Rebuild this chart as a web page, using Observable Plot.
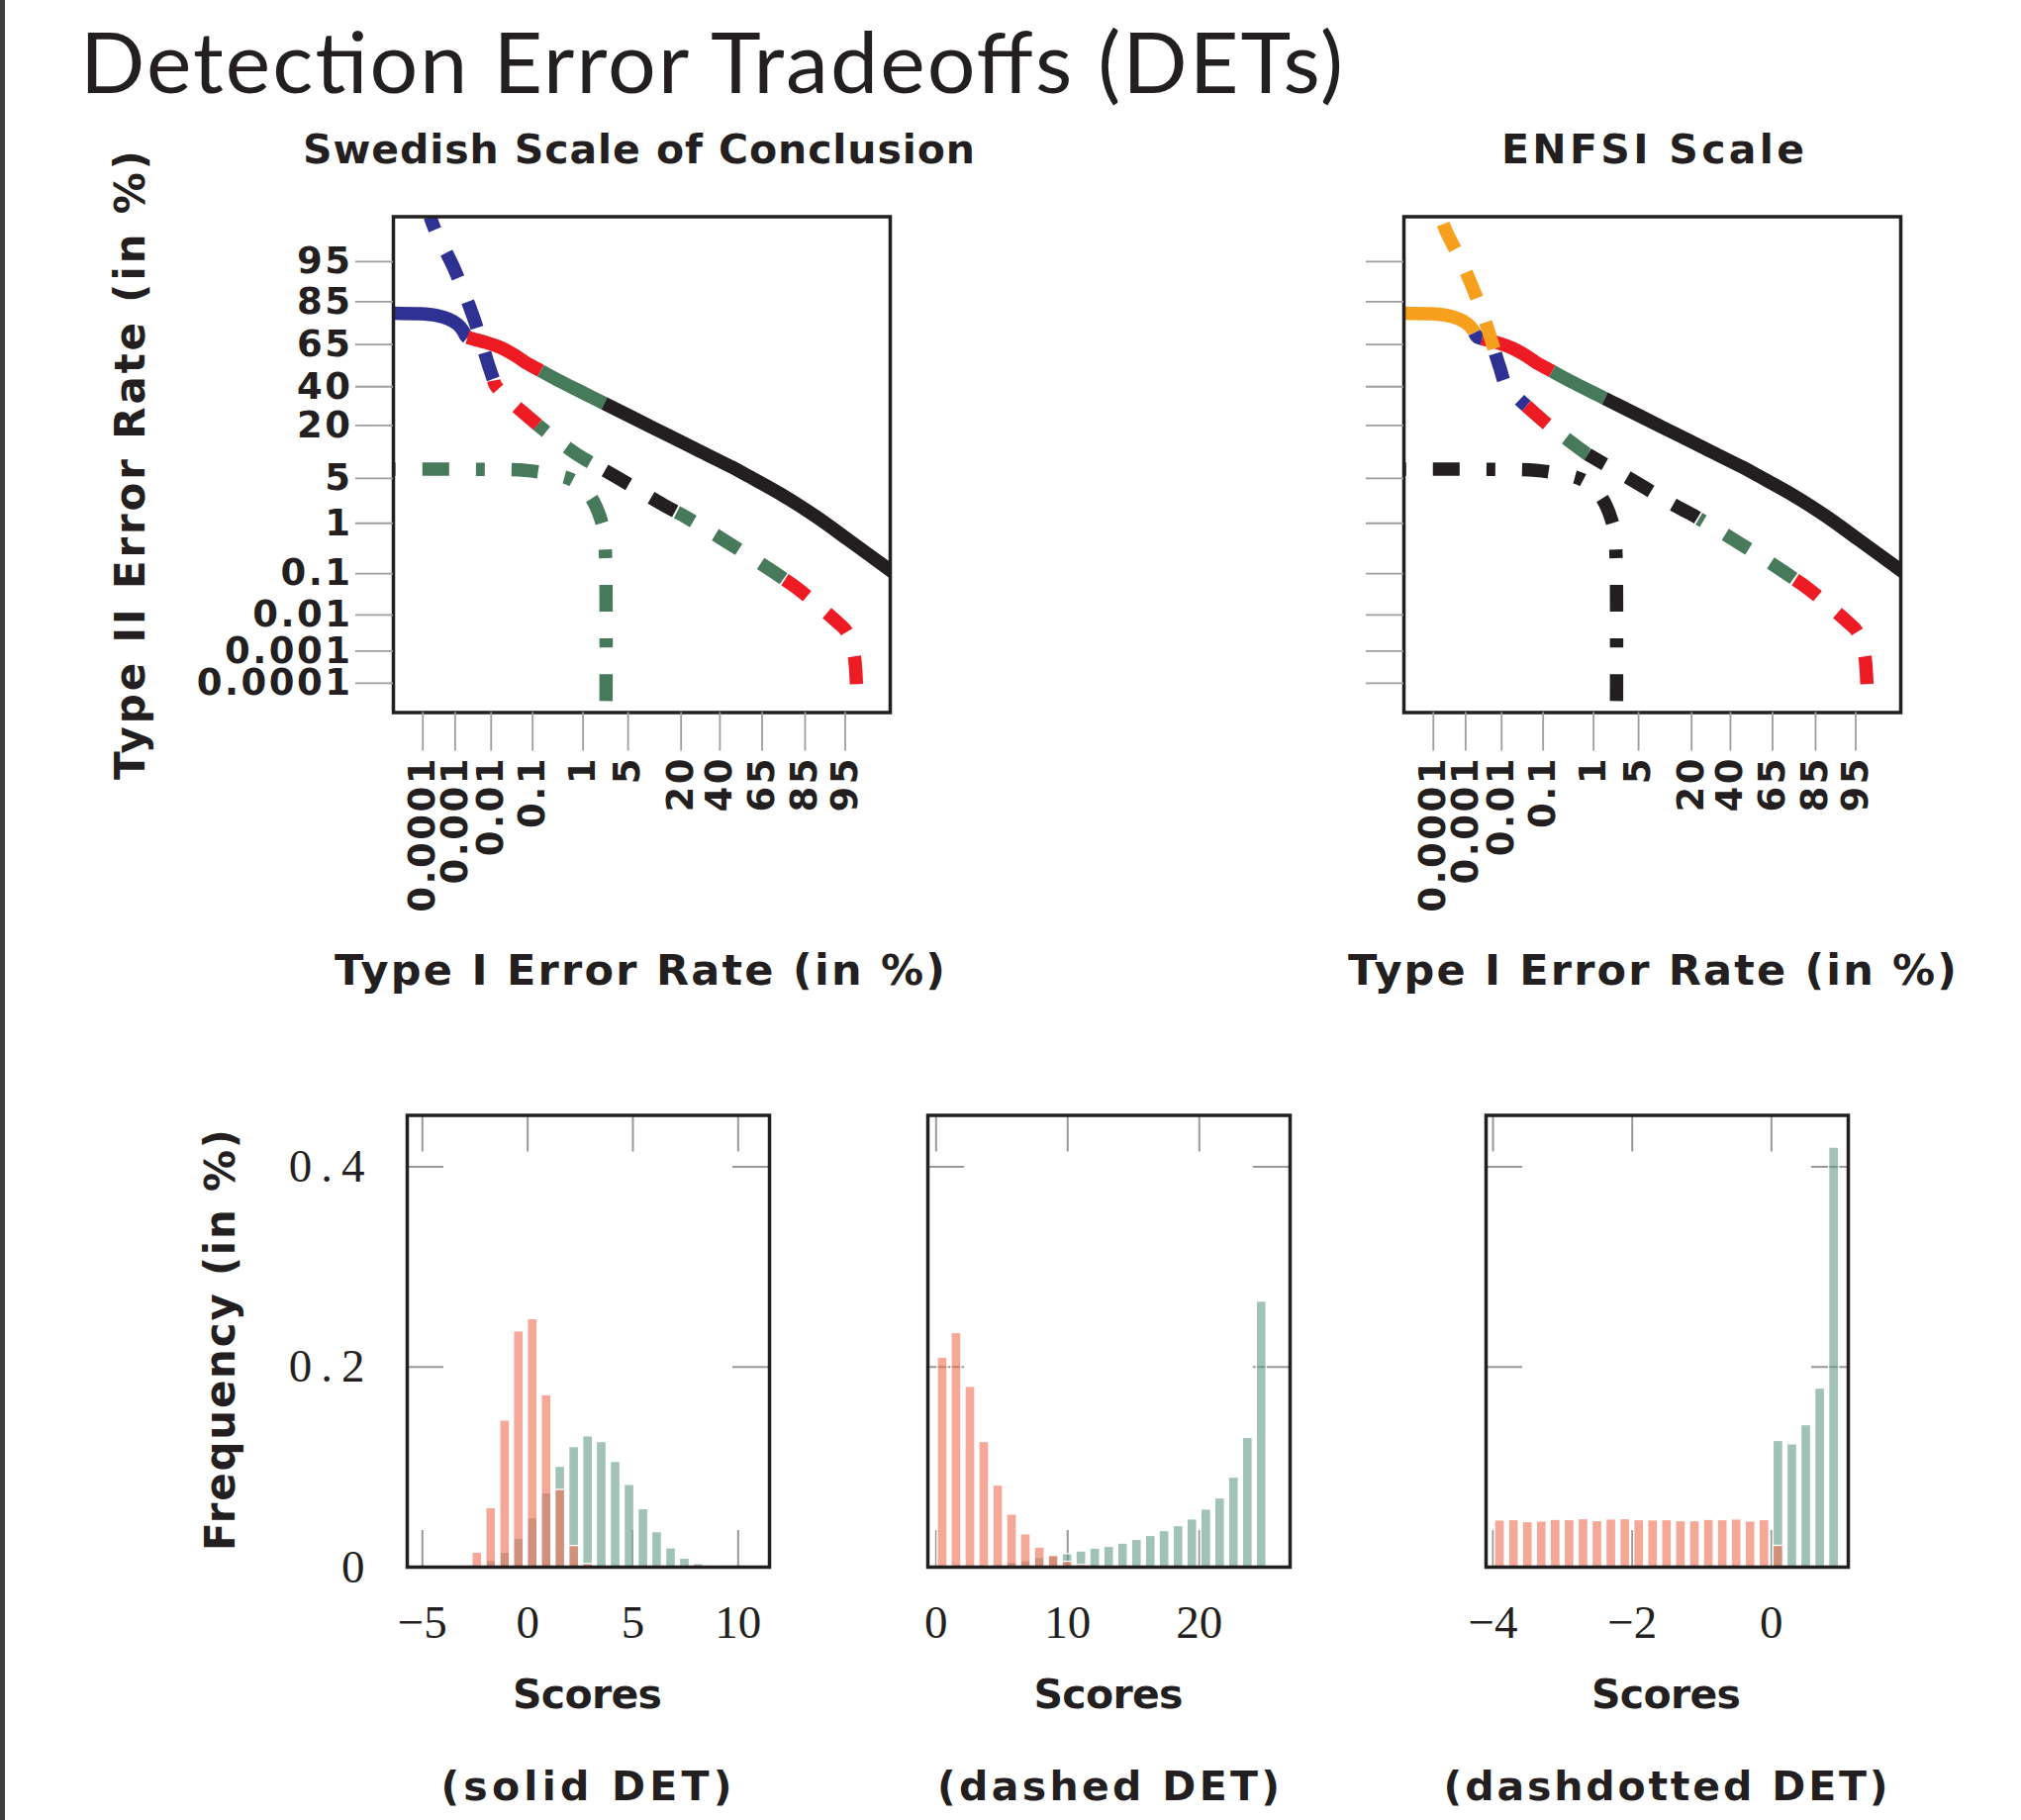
<!DOCTYPE html>
<html><head><meta charset="utf-8">
<script src="https://cdn.jsdelivr.net/npm/d3@7"></script>
<script src="https://cdn.jsdelivr.net/npm/@observablehq/plot@0.6"></script>
<style>
html,body{margin:0;padding:0;background:#fff;}
#page{position:relative;width:2042px;height:1839px;overflow:hidden;background:#fff;}
.panel{position:absolute;}
#leftbar{position:absolute;left:0;top:0;width:5px;height:1839px;background:#3d3d3d;}
#overlay{position:absolute;left:0;top:0;pointer-events:none;}
</style></head><body>
<div id="page"><div id="leftbar"></div></div>
<script>
// ---------- DATA ----------
// DET axis ticks (error rates in %)
const pctTicks = [0.0001, 0.001, 0.01, 0.1, 1, 5, 20, 40, 65, 85, 95];
const pctTickLabels = ["0.0001","0.001","0.01","0.1","1","5","20","40","65","85","95"];

// DET curves, in normal-deviate (probit) units: x = probit(Type I rate), y = probit(Type II rate)
const solidX = [-5.40,-5.194,-4.804,-4.554,-4.354,-4.229,-4.144,-4.104,-4.079,-3.954,-3.804,-3.554,-3.354,-3.204,-2.979,-2.704,-2.504,-2.305,-2.005,-1.555,-1.055,-0.555,-0.055,0.195,0.695,1.195,1.695,2.270,2.50];
const solidY = [0.862,0.860,0.855,0.830,0.770,0.695,0.595,0.520,0.495,0.460,0.420,0.330,0.219,0.119,-0.006,-0.156,-0.256,-0.357,-0.507,-0.732,-0.983,-1.233,-1.483,-1.620,-1.900,-2.220,-2.580,-3.000,-3.170];

const dashedX = [-4.643,-4.564,-4.294,-3.994,-3.744,-3.654,-3.450,-3.179,-2.974,-2.430,-1.805,-1.105,-0.785,-0.140,0.545,0.920,1.535,1.670,1.775,1.805,1.815];
const dashedY = [2.326,2.116,1.571,0.820,0.029,-0.231,-0.450,-0.692,-0.867,-1.273,-1.633,-2.049,-2.223,-2.614,-3.055,-3.315,-3.836,-3.976,-4.300,-4.587,-4.820];

const dashdotX = [-6.11,-3.804,-3.204,-2.904,-2.654,-2.504,-2.355,-2.230,-2.130,-2.055,-2.005,-1.990,-1.980,-1.980];
const dashdotY = [-1.508,-1.508,-1.523,-1.563,-1.613,-1.663,-1.763,-1.898,-2.074,-2.274,-2.474,-2.725,-3.175,-5.600];

// verbal-scale colour changes along each curve (breakpoints in probit of Type I rate)
const swedishSolidBreaks = [-4.079, -2.969, -2.005];
const swedishSolidColors = ["blue","red","green","black"];
const enfsiSolidBreaks = [-4.129, -4.014, -2.954, -2.155];
const enfsiSolidColors = ["orange","blue","red","green","black"];
const swedishDashedBreaks = [-3.679, -3.014, -1.995, -0.905, 0.730];
const swedishDashedColors = ["blue","red","green","black","green","red"];
const enfsiDashedBreaks = [-3.814, -3.344, -2.745, -2.415, -0.730, 0.730];
const enfsiDashedColors = ["orange","blue","red","green","black","green","red"];

// Histograms (bin centres, frequencies)
const h1Centers = [-2.39,-1.73,-1.07,-0.42,0.24,0.90,1.55,2.21,2.87,3.52,4.18,4.84,5.50,6.15,6.81,7.47,8.12];
const h1Diff = [0.0145,0.059,0.1465,0.2356,0.2478,0.1719,0.0772,0.0211,0.003,0,0,0,0,0,0,0,0];
const h1Same = [0,0.0063,0.0145,0.0283,0.049,0.0739,0.1003,0.12,0.1307,0.125,0.1052,0.0822,0.058,0.035,0.0188,0.0085,0.003];
const h2Centers = [0.50,1.55,2.61,3.66,4.72,5.77,6.82,7.88,8.93,9.99,11.04,12.09,13.15,14.20,15.26,16.31,17.36,18.42,19.47,20.53,21.58,22.63,23.69,24.74];
const h2Diff = [0.2092,0.2339,0.1802,0.1251,0.0816,0.0526,0.0328,0.0196,0.0114,0.0054,0.0022,0,0,0,0,0,0,0,0,0,0,0,0,0];
const h2Same = [0,0,0,0.001,0.002,0.0044,0.006,0.0093,0.0104,0.013,0.0157,0.0186,0.0203,0.0236,0.0272,0.0312,0.0361,0.041,0.0477,0.0576,0.0687,0.0895,0.1291,0.2653];
const h3Centers = [-3.90,-3.70,-3.50,-3.30,-3.10,-2.90,-2.70,-2.50,-2.30,-2.10,-1.90,-1.70,-1.50,-1.30,-1.10,-0.90,-0.70,-0.50,-0.30,-0.10,0.10,0.30,0.50,0.70,0.90];
const h3Diff = [0.0467,0.0470,0.0450,0.0457,0.0473,0.0470,0.0480,0.0460,0.0477,0.0480,0.0470,0.0467,0.0470,0.0460,0.0460,0.0473,0.0470,0.0477,0.0457,0.0470,0.0213,0,0,0,0];
const h3Same = [0,0,0,0,0,0,0,0,0,0,0,0,0,0,0,0,0,0,0,0,0.1261,0.1228,0.1419,0.1785,0.4192];
const h1BinWidth = 0.657, h2BinWidth = 1.054, h3BinWidth = 0.2;

const h1XTicks = [-5,0,5,10], h1XLabels = ["\u22125","0","5","10"];
const h2XTicks = [0,10,20], h2XLabels = ["0","10","20"];
const h3XTicks = [-4,-2,0], h3XLabels = ["\u22124","\u22122","0"];
const freqTicks = [0,0.2,0.4], freqLabels = ["0","0.2","0.4"];

// ---------- STYLE ----------
const INK = "#231f20";
const COL = {blue:"#2e3192", red:"#ed1c24", green:"#477a5a", black:"#231f20", orange:"#f6a01e"};
const SALMON = "#f06e53", SEAGREEN = "#619b85";
const LW = 13.5, DASH = "28,26", DASHDOT = "27,27,9,27";
const swedishDashOffsets = [14,18,17,0,9,0];
const enfsiDashOffsets = [46,0,0,0,8,23,0];

// ---------- helpers ----------
function probit(p){
  const a=[-3.969683028665376e+01,2.209460984245205e+02,-2.759285104469687e+02,1.383577518672690e+02,-3.066479806614716e+01,2.506628277459239e+00];
  const b=[-5.447609879822406e+01,1.615858368580409e+02,-1.556989798598866e+02,6.680131188771972e+01,-1.328068155288572e+01];
  const c=[-7.784894002430293e-03,-3.223964580411365e-01,-2.400758277161838e+00,-2.549732539343734e+00,4.374664141464968e+00,2.938163982698783e+00];
  const d=[7.784695709041462e-03,3.224671290700398e-01,2.445134137142996e+00,3.754408661907416e+00];
  const pl=0.02425, ph=1-pl; let q,r;
  if(p<pl){q=Math.sqrt(-2*Math.log(p));return (((((c[0]*q+c[1])*q+c[2])*q+c[3])*q+c[4])*q+c[5])/((((d[0]*q+d[1])*q+d[2])*q+d[3])*q+1);}
  if(p<=ph){q=p-0.5;r=q*q;return (((((a[0]*r+a[1])*r+a[2])*r+a[3])*r+a[4])*r+a[5])*q/(((((b[0]*r+b[1])*r+b[2])*r+b[3])*r+b[4])*r+1);}
  q=Math.sqrt(-2*Math.log(1-p));return -(((((c[0]*q+c[1])*q+c[2])*q+c[3])*q+c[4])*q+c[5])/((((d[0]*q+d[1])*q+d[2])*q+d[3])*q+1);
}
const DET_LO = probit(1e-7), DET_HI = probit(0.99);
const probitTicks = pctTicks.map(p => probit(p/100));
const tickLabel = new Map(probitTicks.map((z,i)=>[z, pctTickLabels[i]]));

function clipCurve(xs, ys, a, b){
  const pts=[];
  const push=(x,y)=>{const l=pts[pts.length-1]; if(!l||Math.abs(l.x-x)>1e-9||Math.abs(l.y-y)>1e-9) pts.push({x,y});};
  for(let i=0;i<xs.length-1;i++){
    const x0=xs[i],x1=xs[i+1],y0=ys[i],y1=ys[i+1];
    if(x1<a||x0>b) continue;
    if(x1===x0){push(x0,y0);push(x1,y1);continue;}
    const at=x=>y0+(y1-y0)*(x-x0)/(x1-x0);
    const s=Math.max(a,x0), e=Math.min(b,x1);
    push(s,at(s)); push(e,at(e));
  }
  return pts;
}
function segmentMarks(xs, ys, breaks, colors, dash, offsets){
  const edges=[-Infinity,...breaks,Infinity];
  const marks=[];
  for(let s=0;s<colors.length;s++){
    const pts=clipCurve(xs,ys,edges[s],edges[s+1]);
    if(pts.length<2) continue;
    const o={x:"x",y:"y",stroke:COL[colors[s]],strokeWidth:LW,strokeLinecap:"butt",strokeLinejoin:"round",curve:"catmull-rom",clip:true};
    if(dash){o.strokeDasharray=dash;o.strokeDashoffset=offsets?offsets[s]:0;}
    marks.push(Plot.line(pts,o));
  }
  return marks;
}

function detPanel(cfg){
  const marks=[
    ...segmentMarks(solidX,solidY,cfg.solidBreaks,cfg.solidColors,null,null),
    ...segmentMarks(dashedX,dashedY,cfg.dashedBreaks,cfg.dashedColors,DASH,cfg.dashOffsets),
    ...segmentMarks(dashdotX,dashdotY,[],[cfg.dashdotColor],DASHDOT,[0]),
    Plot.frame({stroke:INK,strokeWidth:3.5}),
    Plot.axisX({ticks:probitTicks,tickFormat:d=>tickLabel.get(d),tickSize:39,tickPadding:5,tickRotate:-90,stroke:"#9d9d9d",strokeWidth:1.8,fill:INK,label:null}),
    Plot.axisY({ticks:probitTicks,tickFormat:cfg.yLabels?(d=>tickLabel.get(d)):(()=>""),tickSize:38,tickPadding:3,stroke:"#9d9d9d",strokeWidth:1.8,fill:INK,label:null})
  ];
  return Plot.plot({
    width:730,height:770,marginLeft:207,marginRight:21,marginTop:28.5,marginBottom:240.5,
    x:{domain:[DET_LO,DET_HI]},y:{domain:[DET_LO,DET_HI]},
    style:{fontFamily:"DejaVu Sans",fontSize:"37px",fontWeight:"bold",letterSpacing:"2.5px",color:INK,background:"none",overflow:"visible"},
    marks
  });
}

function histPanel(cfg){
  const FW=366, FH=456.5, TL=37;
  const bars=(centers,vals,bw)=>centers.map((c,i)=>({x1:c-0.355*bw,x2:c+0.355*bw,v:vals[i]})).filter(d=>d.v>0);
  const fmtX=new Map(cfg.xTicks.map((t,i)=>[t,cfg.xLabels[i]]));
  const fmtY=new Map(freqTicks.map((t,i)=>[t,freqLabels[i]]));
  const tick={stroke:"#999",strokeWidth:2};
  const marks=[
    Plot.tickX(cfg.xTicks,{x:d=>d,insetBottom:FH-TL,...tick}),
    Plot.tickX(cfg.xTicks,{x:d=>d,insetTop:FH-TL,...tick}),
    Plot.tickY([0.2,0.4],{y:d=>d,insetRight:FW-TL,...tick}),
    Plot.tickY([0.2,0.4],{y:d=>d,insetLeft:FW-TL,...tick}),
    Plot.rect(bars(cfg.centers,cfg.same,cfg.bw),{x1:"x1",x2:"x2",y1:0,y2:"v",fill:SEAGREEN,fillOpacity:0.6,stroke:"white",strokeWidth:1.3}),
    Plot.rect(bars(cfg.centers,cfg.diff,cfg.bw),{x1:"x1",x2:"x2",y1:0,y2:"v",fill:SALMON,fillOpacity:0.6,stroke:"white",strokeWidth:1.3}),
    Plot.frame({stroke:INK,strokeWidth:3.5}),
    Plot.axisX({ticks:cfg.xTicks,tickFormat:d=>fmtX.get(d),tickSize:0,tickPadding:38,label:null})
  ];
  if(cfg.yLabels) marks.push(Plot.axisY({ticks:freqTicks,tickFormat:d=>fmtY.get(d),tickSize:0,tickPadding:34,label:null}));
  const svg=Plot.plot({
    width:486,height:600,marginLeft:100,marginRight:20,marginTop:46.5,marginBottom:97,
    x:{domain:cfg.domain},y:{domain:[0,0.4514],axis:cfg.yLabels?undefined:null},
    style:{fontFamily:"Liberation Serif",fontSize:"47px",color:INK,background:"none",overflow:"visible"},
    marks
  });
  svg.querySelectorAll('g[aria-label="y-axis tick label"] text').forEach(t=>t.style.letterSpacing="9px");
  return svg;
}

const page=document.getElementById("page");
function place(node,left,top){const d=document.createElement("div");d.className="panel";d.style.left=left+"px";d.style.top=top+"px";d.appendChild(node);page.appendChild(d);}

place(detPanel({solidBreaks:swedishSolidBreaks,solidColors:swedishSolidColors,dashedBreaks:swedishDashedBreaks,dashedColors:swedishDashedColors,dashOffsets:swedishDashOffsets,dashdotColor:"green",yLabels:true}),190,190);
place(detPanel({solidBreaks:enfsiSolidBreaks,solidColors:enfsiSolidColors,dashedBreaks:enfsiDashedBreaks,dashedColors:enfsiDashedColors,dashOffsets:enfsiDashOffsets,dashdotColor:"black",yLabels:false}),1211,190);

place(histPanel({centers:h1Centers,diff:h1Diff,same:h1Same,bw:h1BinWidth,domain:[-5.72,11.49],xTicks:h1XTicks,xLabels:h1XLabels,yLabels:true}),311,1080);
place(histPanel({centers:h2Centers,diff:h2Diff,same:h2Same,bw:h2BinWidth,domain:[-0.625,26.9],xTicks:h2XTicks,xLabels:h2XLabels,yLabels:false}),837,1080);
place(histPanel({centers:h3Centers,diff:h3Diff,same:h3Same,bw:h3BinWidth,domain:[-4.1,1.104],xTicks:h3XTicks,xLabels:h3XLabels,yLabels:false}),1400.5,1080);

// ---------- text overlay ----------
const B="DejaVu Sans";
function txt(s,x,y,size,len,opt={}){
  const fam=opt.family||B, w=opt.weight||"bold";
  const tr=opt.rotate?` transform="translate(${x},${y}) rotate(-90)"`:"";
  const xy=opt.rotate?`x="0" y="0"`:`x="${x}" y="${y}"`;
  return `<text ${xy}${tr} font-family="${fam}" font-size="${size}" font-weight="${w}" fill="${INK}" textLength="${len}" lengthAdjust="spacing">${s}</text>`;
}
const overlay=`<svg id="overlay" width="2042" height="1839" xmlns="http://www.w3.org/2000/svg">
${txt("Detection Error Tradeoffs (DETs)",81,93.5,86,1276,{family:"Lato",weight:"400"})}
${txt("Swedish Scale of Conclusion",306,165,41,679)}
${txt("ENFSI Scale",1517,165,41,306)}
${txt("Type II Error Rate (in %)",146,788,42,636,{rotate:true})}
${txt("Type I Error Rate (in %)",338,995,43,617)}
${txt("Type I Error Rate (in %)",1362,995,43,615)}
${txt("Frequency (in %)",237,1567,42,426,{rotate:true})}
${txt("Scores",518,1725.5,41,151)}
${txt("Scores",1044.5,1725.5,41,151)}
${txt("Scores",1608,1725.5,41,151)}
${txt("(solid DET)",445.4,1819,41,294)}
${txt("(dashed DET)",947,1819,41,346)}
${txt("(dashdotted DET)",1458.6,1819,41,449)}
</svg>`;
page.insertAdjacentHTML("beforeend",overlay);
</script>
</body></html>
